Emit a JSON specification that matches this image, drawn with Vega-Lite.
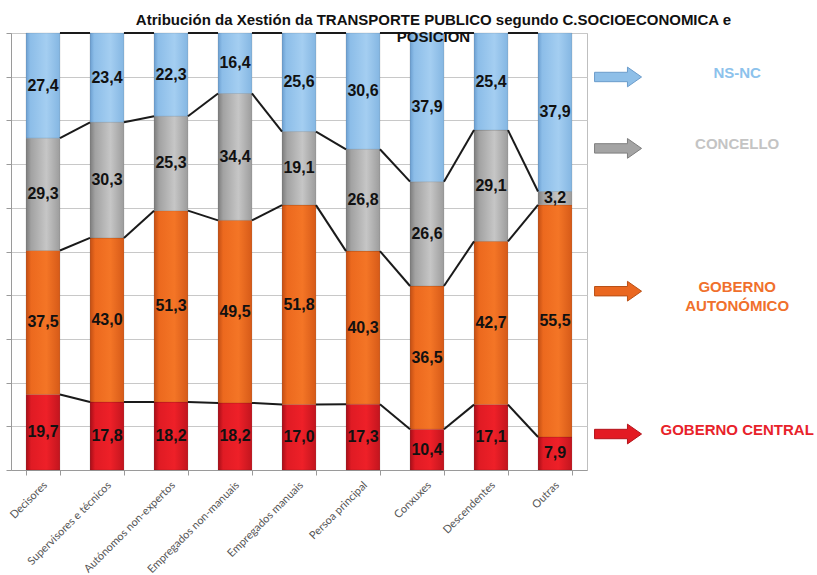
{
  "$schema": "https://vega.github.io/schema/vega-lite/v6.json",
  "padding": {"left": 5, "top": 12, "right": 0, "bottom": 0},
  "background": "white",
  "config": {
    "locale": {"number": {"decimal": ",", "thousands": ".", "grouping": [3], "currency": ["", " €"]}},
    "view": {"stroke": null},
    "font": "Liberation Sans"
  },
  "title": {
    "text": ["Atribución da Xestión da TRANSPORTE PUBLICO segundo C.SOCIOECONOMICA e", "POSICION"],
    "font": "Liberation Sans",
    "fontSize": 15,
    "fontWeight": "bold",
    "color": "#111111",
    "anchor": "middle",
    "dx": 24,
    "offset": -13,
    "lineHeight": 17
  },
  "datasets": {
    "main": [
      {"cat": "Decisores", "serie": "GOBERNO CENTRAL", "value": 19.7},
      {"cat": "Decisores", "serie": "GOBERNO AUTONÓMICO", "value": 37.5},
      {"cat": "Decisores", "serie": "CONCELLO", "value": 29.3},
      {"cat": "Decisores", "serie": "NS-NC", "value": 27.4},
      {"cat": "Supervisores e técnicos", "serie": "GOBERNO CENTRAL", "value": 17.8},
      {"cat": "Supervisores e técnicos", "serie": "GOBERNO AUTONÓMICO", "value": 43.0},
      {"cat": "Supervisores e técnicos", "serie": "CONCELLO", "value": 30.3},
      {"cat": "Supervisores e técnicos", "serie": "NS-NC", "value": 23.4},
      {"cat": "Autónomos non-expertos", "serie": "GOBERNO CENTRAL", "value": 18.2},
      {"cat": "Autónomos non-expertos", "serie": "GOBERNO AUTONÓMICO", "value": 51.3},
      {"cat": "Autónomos non-expertos", "serie": "CONCELLO", "value": 25.3},
      {"cat": "Autónomos non-expertos", "serie": "NS-NC", "value": 22.3},
      {"cat": "Empregados non-manuais", "serie": "GOBERNO CENTRAL", "value": 18.2},
      {"cat": "Empregados non-manuais", "serie": "GOBERNO AUTONÓMICO", "value": 49.5},
      {"cat": "Empregados non-manuais", "serie": "CONCELLO", "value": 34.4},
      {"cat": "Empregados non-manuais", "serie": "NS-NC", "value": 16.4},
      {"cat": "Empregados manuais", "serie": "GOBERNO CENTRAL", "value": 17.0},
      {"cat": "Empregados manuais", "serie": "GOBERNO AUTONÓMICO", "value": 51.8},
      {"cat": "Empregados manuais", "serie": "CONCELLO", "value": 19.1},
      {"cat": "Empregados manuais", "serie": "NS-NC", "value": 25.6},
      {"cat": "Persoa principal", "serie": "GOBERNO CENTRAL", "value": 17.3},
      {"cat": "Persoa principal", "serie": "GOBERNO AUTONÓMICO", "value": 40.3},
      {"cat": "Persoa principal", "serie": "CONCELLO", "value": 26.8},
      {"cat": "Persoa principal", "serie": "NS-NC", "value": 30.6},
      {"cat": "Conxuxes", "serie": "GOBERNO CENTRAL", "value": 10.4},
      {"cat": "Conxuxes", "serie": "GOBERNO AUTONÓMICO", "value": 36.5},
      {"cat": "Conxuxes", "serie": "CONCELLO", "value": 26.6},
      {"cat": "Conxuxes", "serie": "NS-NC", "value": 37.9},
      {"cat": "Descendentes", "serie": "GOBERNO CENTRAL", "value": 17.1},
      {"cat": "Descendentes", "serie": "GOBERNO AUTONÓMICO", "value": 42.7},
      {"cat": "Descendentes", "serie": "CONCELLO", "value": 29.1},
      {"cat": "Descendentes", "serie": "NS-NC", "value": 25.4},
      {"cat": "Outras", "serie": "GOBERNO CENTRAL", "value": 7.9},
      {"cat": "Outras", "serie": "GOBERNO AUTONÓMICO", "value": 55.5},
      {"cat": "Outras", "serie": "CONCELLO", "value": 3.2},
      {"cat": "Outras", "serie": "NS-NC", "value": 37.9}
    ],
    "legend": [
      {"serie": "NS-NC", "label": "NS-NC"},
      {"serie": "CONCELLO", "label": "CONCELLO"},
      {"serie": "GOBERNO AUTONÓMICO", "label": "GOBERNO\nAUTONÓMICO"},
      {"serie": "GOBERNO CENTRAL", "label": "GOBERNO CENTRAL"}
    ]
  },
  "spacing": 0,
  "resolve": {"scale": {"x": "independent", "y": "independent", "color": "independent"}},
  "hconcat": [
    {
      "width": 576,
      "height": 437,
      "view": {"stroke": "#BFBFBF", "strokeWidth": 1},
      "data": {"name": "main"},
      "transform": [
        {"calculate": "indexof(['GOBERNO CENTRAL','GOBERNO AUTONÓMICO','CONCELLO','NS-NC'], datum.serie)", "as": "ord"},
        {"calculate": "indexof(['Decisores','Supervisores e técnicos','Autónomos non-expertos','Empregados non-manuais','Empregados manuais','Persoa principal','Conxuxes','Descendentes','Outras'], datum.cat)", "as": "ci"},
        {"joinaggregate": [{"op": "sum", "field": "value", "as": "total"}], "groupby": ["cat"]},
        {"window": [{"op": "sum", "field": "value", "as": "cum"}], "groupby": ["cat"], "sort": [{"field": "ord", "order": "ascending"}], "frame": [null, 0]},
        {"calculate": "datum.cum / datum.total", "as": "y1"},
        {"calculate": "(datum.cum - datum.value) / datum.total", "as": "y0"},
        {"calculate": "(datum.y0 + datum.y1) / 2", "as": "ym"}
      ],
      "encoding": {
        "x": {
          "field": "cat",
          "type": "nominal",
          "sort": ["Decisores","Supervisores e técnicos","Autónomos non-expertos","Empregados non-manuais","Empregados manuais","Persoa principal","Conxuxes","Descendentes","Outras"],
          "scale": {"paddingInner": 0.47, "paddingOuter": 0.235},
          "axis": {
            "title": null,
            "labelAngle": -45,
            "labelFont": "Lato",
            "labelFontSize": 11,
            "labelColor": "#555555",
            "tickBand": "extent",
            "domainColor": "#9A9A9A",
            "tickColor": "#9A9A9A",
            "tickSize": 5,
            "labelPadding": 4,
            "labelOffset": -2
          }
        }
      },
      "layer": [
        {
          "mark": {"type": "bar", "stroke": "#00000030", "strokeWidth": 0.6},
          "encoding": {
            "y": {
              "field": "y1",
              "type": "quantitative",
              "scale": {"domain": [0, 1], "nice": false},
              "axis": {
                "title": null,
                "labels": false,
                "values": [0, 0.1, 0.2, 0.3, 0.4, 0.5, 0.6, 0.7, 0.8, 0.9, 1],
                "grid": true,
                "gridColor": "#C8C8C8",
                "domainColor": "#9A9A9A",
                "tickColor": "#9A9A9A",
                "tickSize": 5
              }
            },
            "y2": {"field": "y0"},
            "fill": {
              "condition": [
                {"test": "datum.serie === 'NS-NC'", "value": {"gradient": "linear", "x1": 0, "x2": 1, "y1": 0, "y2": 0, "stops": [{"offset": 0, "color": "#6A9ED0"}, {"offset": 0.12, "color": "#8CBDE8"}, {"offset": 0.6, "color": "#A4CEF1"}, {"offset": 1, "color": "#84B6E2"}]}},
                {"test": "datum.serie === 'CONCELLO'", "value": {"gradient": "linear", "x1": 0, "x2": 1, "y1": 0, "y2": 0, "stops": [{"offset": 0, "color": "#7C7C7C"}, {"offset": 0.15, "color": "#A2A2A2"}, {"offset": 0.6, "color": "#C6C6C6"}, {"offset": 1, "color": "#9C9C9C"}]}},
                {"test": "datum.serie === 'GOBERNO AUTONÓMICO'", "value": {"gradient": "linear", "x1": 0, "x2": 1, "y1": 0, "y2": 0, "stops": [{"offset": 0, "color": "#C24E14"}, {"offset": 0.15, "color": "#EC691E"}, {"offset": 0.6, "color": "#F47526"}, {"offset": 1, "color": "#D65A18"}]}}
              ],
              "value": {"gradient": "linear", "x1": 0, "x2": 1, "y1": 0, "y2": 0, "stops": [{"offset": 0, "color": "#A50E18"}, {"offset": 0.15, "color": "#E01B24"}, {"offset": 0.6, "color": "#EE2028"}, {"offset": 1, "color": "#C2151E"}]}
            }
          }
        },
        {
          "transform": [
            {"window": [{"op": "lead", "field": "y1", "as": "ny"}, {"op": "lead", "field": "cat", "as": "ncat"}], "groupby": ["serie"], "sort": [{"field": "ci", "order": "ascending"}]},
            {"filter": "datum.ncat != null"}
          ],
          "mark": {"type": "rule", "color": "#1A1A1A", "strokeWidth": 2},
          "encoding": {
            "x": {"field": "cat", "type": "nominal", "bandPosition": 1},
            "x2": {"field": "ncat", "bandPosition": 0},
            "y": {"field": "y1", "type": "quantitative"},
            "y2": {"field": "ny"}
          }
        },
        {
          "mark": {"type": "text", "font": "Liberation Sans", "fontWeight": "bold", "fontSize": 16, "color": "#111111", "baseline": "middle"},
          "encoding": {
            "y": {"field": "ym", "type": "quantitative"},
            "text": {"field": "value", "type": "quantitative", "format": ".1f"}
          }
        }
      ]
    },
    {
      "width": 226,
      "height": 437,
      "data": {"name": "legend"},
      "encoding": {
        "y": {
          "field": "serie",
          "type": "ordinal",
          "scale": {"type": "point", "domain": ["NS-NC", "CONCELLO", " ", "GOBERNO AUTONÓMICO", "  ", "GOBERNO CENTRAL"], "padding": 0.56},
          "axis": null
        }
      },
      "layer": [
        {
          "mark": {"type": "point", "filled": true, "shape": "M-1,-0.2L0.4,-0.2L0.4,-0.42L1,0L0.4,0.42L0.4,0.2L-1,0.2Z", "size": 2209, "strokeWidth": 1, "opacity": 1, "yOffset": 4},
          "encoding": {
            "x": {"datum": 0.133, "type": "quantitative", "scale": {"domain": [0, 1]}, "axis": null},
            "fill": {"field": "serie", "type": "nominal", "legend": null, "scale": {"domain": ["NS-NC", "CONCELLO", "GOBERNO AUTONÓMICO", "GOBERNO CENTRAL"], "range": ["#8EBFE8", "#A4A4A4", "#EA6720", "#E31B23"]}},
            "stroke": {"field": "serie", "type": "nominal", "legend": null, "scale": {"domain": ["NS-NC", "CONCELLO", "GOBERNO AUTONÓMICO", "GOBERNO CENTRAL"], "range": ["#6B9CCB", "#7E7E7E", "#B95016", "#B3141B"]}}
          }
        },
        {
          "mark": {"type": "text", "font": "Liberation Sans", "fontWeight": "bold", "fontSize": 15, "lineBreak": "\n", "lineHeight": 19, "baseline": "middle", "align": "center"},
          "encoding": {
            "x": {"datum": 0.66, "type": "quantitative"},
            "text": {"field": "label"},
            "color": {"field": "serie", "type": "nominal", "legend": null, "scale": {"domain": ["NS-NC", "CONCELLO", "GOBERNO AUTONÓMICO", "GOBERNO CENTRAL"], "range": ["#8CC2EC", "#C4C4C4", "#F0702C", "#E8222A"]}}
          }
        }
      ]
    }
  ]
}
